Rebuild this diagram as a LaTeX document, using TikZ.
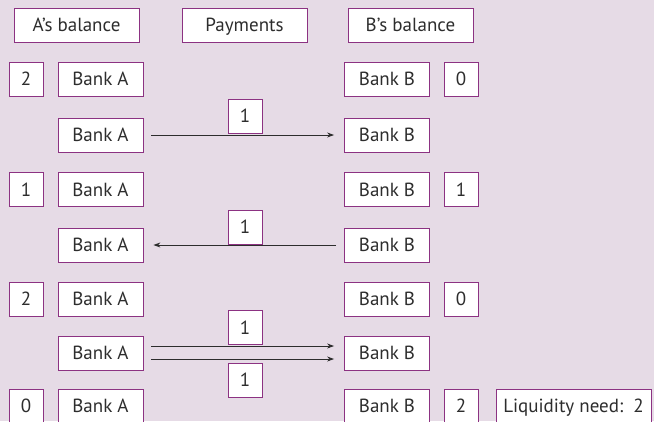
\documentclass[tikz,border=0pt]{standalone}
\usepackage{fontspec}
\setmainfont{PT Sans}
\usetikzlibrary{arrows.meta}
\definecolor{bg}{RGB}{230,219,230}
\definecolor{frame}{RGB}{140,50,130}
\definecolor{ink}{RGB}{45,45,45}
\begin{document}
\begin{tikzpicture}[x=1pt,y=-1pt,
 box/.style={draw=frame,line width=0.8pt,fill=white,text=ink,font=\fontsize{19}{22}\selectfont,inner sep=0pt,text height=13.3pt,text depth=0pt},
 num/.style={box,minimum width=34pt,minimum height=34pt},
 bank/.style={box,minimum width=85pt,minimum height=34pt},
 head/.style={box,minimum width=125pt,minimum height=34pt},
 pay/.style={draw=ink,line width=0.9pt,-{Stealth[length=7pt,width=5pt]},shorten <=8pt,shorten >=10pt}]
\useasboundingbox (0,0) rectangle (654,421);
\fill[bg] (0,0) rectangle (654,421);
\clip (0,0) rectangle (654,421);
% headers
\node[head] (ha) at (76.5,25) {A’s balance};
\node[head] (hp) at (244.5,25) {Payments};
\node[head] (hb) at (410.5,25) {B’s balance};
% row 1
\node[num] (n1a) at (26,79) {2};
\node[bank] (a1) at (100.5,79) {Bank A};
\node[bank] (b1) at (387,79) {Bank B};
\node[num] (n1b) at (461,79) {0};
% row 2
\node[bank] (a2) at (100.5,135) {Bank A};
\node[bank] (b2) at (387,135) {Bank B};
\node[num] (p2) at (245,116) {1};
\draw[pay] (a2) -- (b2);
% row 3
\node[num] (n3a) at (26,189.5) {1};
\node[bank] (a3) at (100.5,189.5) {Bank A};
\node[bank] (b3) at (387,189.5) {Bank B};
\node[num] (n3b) at (461,189.5) {1};
% row 4
\node[bank] (a4) at (100.5,245) {Bank A};
\node[bank] (b4) at (387,245) {Bank B};
\node[num] (p4) at (245,227) {1};
\draw[pay] (b4) -- (a4);
% row 5
\node[num] (n5a) at (26,299) {2};
\node[bank] (a5) at (100.5,299) {Bank A};
\node[bank] (b5) at (387,299) {Bank B};
\node[num] (n5b) at (461,299) {0};
% row 6
\node[bank] (a6) at (100.5,353) {Bank A};
\node[bank] (b6) at (387,353) {Bank B};
\node[num] (p6a) at (245,327.5) {1};
\node[num] (p6b) at (245,380) {1};
\draw[pay] ([yshift=-6pt]a6.east) -- ([yshift=-6pt]b6.west);
\draw[pay] ([yshift=7pt]a6.east) -- ([yshift=7pt]b6.west);
% row 7
\node[num] (n7a) at (26,406) {0};
\node[bank] (a7) at (100.5,406) {Bank A};
\node[bank] (b7) at (387,406) {Bank B};
\node[num] (n7b) at (461,406) {2};
\node[box,minimum width=155pt,minimum height=34pt] (liq) at (573.5,406) {Liquidity need:\ \ 2};
\end{tikzpicture}
\end{document}
